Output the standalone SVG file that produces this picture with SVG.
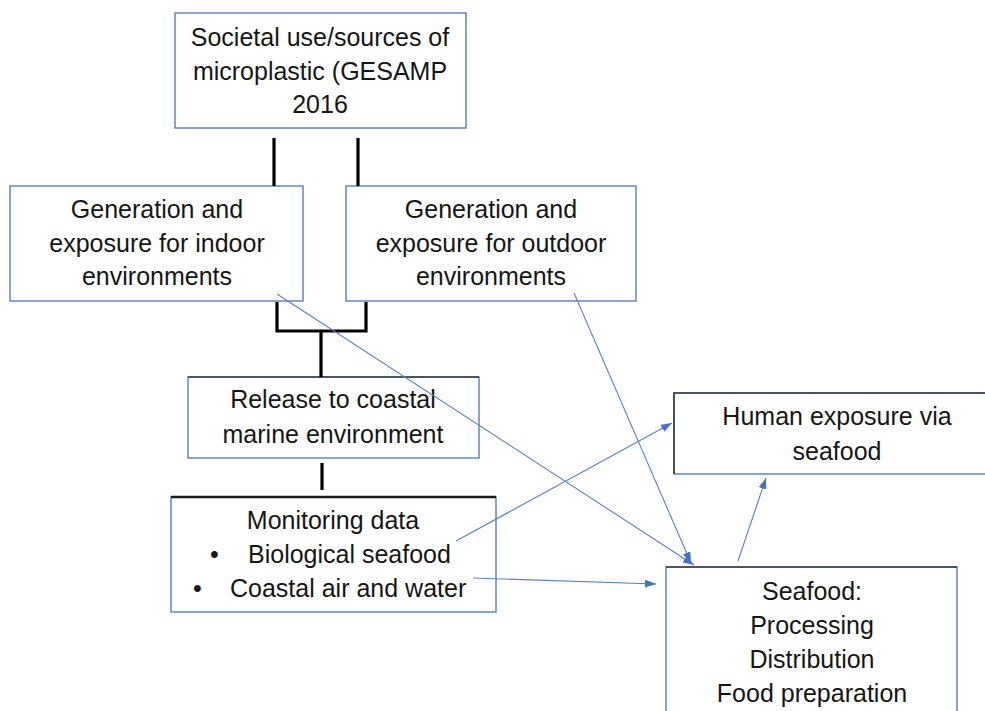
<svg xmlns="http://www.w3.org/2000/svg" width="985" height="711" viewBox="0 0 985 711">
  <style>
    .box { fill: #ffffff; stroke: #5a7dbf; stroke-width: 1.4; }
    .edge { stroke: #3a3a3a; stroke-width: 1.6; fill: none; }
    .lbl { font-family: "Liberation Sans", Arial, sans-serif; font-size: 25px; fill: #161616; text-anchor: middle; }
    .lbl-l { font-family: "Liberation Sans", Arial, sans-serif; font-size: 25px; fill: #161616; }
    .tree { stroke: #000000; stroke-width: 3.2; fill: none; }
    .flow { stroke: #5b80c4; stroke-width: 1.1; fill: none; marker-end: url(#arrow); }
  </style>
  <defs>
    <marker id="arrow" markerUnits="userSpaceOnUse" markerWidth="11" markerHeight="8" refX="11" refY="4" orient="auto">
      <path d="M0,0 L11,4 L0,8 z" fill="#4472c4"/>
    </marker>
  </defs>

  <rect width="985" height="711" fill="#ffffff"/>

  <!-- nodes -->
  <g id="sources">
    <rect class="box" x="175" y="13" width="291" height="115"/>
    <text class="lbl" x="320" y="46">Societal use/sources of</text>
    <text class="lbl" x="320" y="80">microplastic (GESAMP</text>
    <text class="lbl" x="320" y="113">2016</text>
  </g>

  <g id="indoor">
    <rect class="box" x="10" y="186" width="293" height="115"/>
    <text class="lbl" x="157" y="218">Generation and</text>
    <text class="lbl" x="157" y="252">exposure for indoor</text>
    <text class="lbl" x="157" y="285">environments</text>
  </g>

  <g id="outdoor">
    <rect class="box" x="346" y="186" width="290" height="115"/>
    <text class="lbl" x="491" y="218">Generation and</text>
    <text class="lbl" x="491" y="252">exposure for outdoor</text>
    <text class="lbl" x="491" y="285">environments</text>
  </g>

  <g id="release">
    <rect class="box" x="188" y="377" width="291" height="81"/>
    <line class="edge" x1="188" y1="377" x2="479" y2="377"/>
    <text class="lbl" x="333" y="408">Release to coastal</text>
    <text class="lbl" x="333" y="443">marine environment</text>
  </g>

  <g id="monitoring">
    <rect class="box" x="171" y="497" width="325" height="115"/>
    <line x1="171" y1="497" x2="496" y2="497" stroke="#1a1a1a" stroke-width="2.4"/>
    <text class="lbl" x="333" y="529">Monitoring data</text>
    <text class="lbl-l" x="210" y="563">•</text>
    <text class="lbl-l" x="248" y="563">Biological seafood</text>
    <text class="lbl-l" x="193" y="597">•</text>
    <text class="lbl-l" x="230" y="597">Coastal air and water</text>
  </g>

  <g id="human-exposure">
    <rect class="box" x="674" y="393" width="330" height="81"/>
    <polyline class="edge" points="674,474 674,393 1004,393"/>
    <text class="lbl" x="837" y="425">Human exposure via</text>
    <text class="lbl" x="837" y="460">seafood</text>
  </g>

  <g id="seafood">
    <rect class="box" x="666" y="567" width="291" height="160"/>
    <line class="edge" x1="666" y1="567" x2="957" y2="567"/>
    <text class="lbl" x="812" y="600">Seafood:</text>
    <text class="lbl" x="812" y="634">Processing</text>
    <text class="lbl" x="812" y="668">Distribution</text>
    <text class="lbl" x="812" y="702">Food preparation</text>
  </g>

  <!-- connectors, drawn over the boxes -->
  <g id="connectors">
    <!-- sources to indoor / outdoor -->
    <line class="tree" x1="274" y1="138" x2="274" y2="186"/>
    <line class="tree" x1="358" y1="138" x2="358" y2="186"/>
    <!-- indoor + outdoor joined down to the coastal release -->
    <polyline class="tree" points="277,302 277,331 366,331 366,302"/>
    <line class="tree" x1="321" y1="331" x2="321" y2="377"/>
    <!-- release to monitoring -->
    <line class="tree" x1="322" y1="463" x2="322" y2="490"/>

    <!-- flows -->
    <line class="flow" x1="277" y1="294" x2="694" y2="565"/>
    <line class="flow" x1="574" y1="293" x2="691" y2="563"/>
    <line class="flow" x1="456" y1="541" x2="672" y2="423"/>
    <line class="flow" x1="473" y1="578" x2="656" y2="584"/>
    <line class="flow" x1="738" y1="561" x2="766" y2="478"/>
  </g>
</svg>
